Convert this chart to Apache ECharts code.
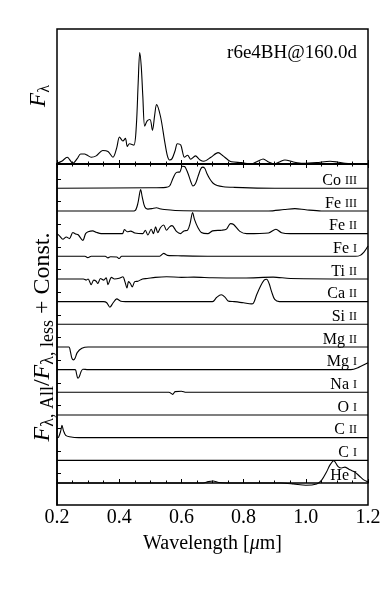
<!DOCTYPE html>
<html>
<head>
<meta charset="utf-8">
<script src="https://cdn.jsdelivr.net/npm/echarts@6/dist/echarts.min.js"></script>
<style>
html, body { margin: 0; background: #fff; }
#chart { width: 387px; height: 595px; }
</style>
</head>
<body>
<div id="chart"></div>
<script>
// wavelength ticks
const xTicks = [0.2, 0.4, 0.6, 0.8, 1.0, 1.2];

// total spectrum F_lambda (arbitrary units), [wavelength um, flux]
const totalFlux = [[0.2,0.005],[0.215,0.02],[0.233,0.05],[0.251,0.005],[0.265,0.04],[0.276,0.074],[0.289,0.074],[0.296,0.067],[0.31,0.05],[0.326,0.06],[0.347,0.1],[0.364,0.093],[0.38,0.05],[0.392,0.12],[0.401,0.2],[0.412,0.17],[0.42,0.19],[0.426,0.13],[0.433,0.15],[0.447,0.14],[0.455,0.28],[0.461,0.6],[0.466,0.826],[0.471,0.72],[0.476,0.5],[0.482,0.28],[0.49,0.32],[0.499,0.33],[0.507,0.25],[0.514,0.36],[0.52,0.44],[0.533,0.35],[0.546,0.17],[0.555,0.06],[0.562,0.03],[0.57,0.04],[0.58,0.1],[0.587,0.15],[0.598,0.14],[0.61,0.05],[0.62,0.065],[0.63,0.035],[0.645,0.06],[0.66,0.03],[0.672,0.02],[0.695,0.05],[0.718,0.084],[0.734,0.06],[0.75,0.03],[0.761,0.017],[0.793,0.01],[0.825,0.0],[0.845,0.02],[0.863,0.037],[0.88,0.015],[0.9,0.0],[0.915,0.015],[0.933,0.03],[0.96,0.015],[0.99,0.005],[1.035,0.01],[1.078,0.02],[1.1,0.015],[1.126,0.005],[1.164,0.0],[1.2,0.0]];

// F_all / F_less - 1 for each species (one unit = one offset step)
const coIII = [[0.2,0],[0.5,0.02],[0.55,0.04],[0.562,0.1],[0.573,0.44],[0.584,0.7],[0.595,0.72],[0.603,0.97],[0.61,0.96],[0.621,0.66],[0.63,0.3],[0.637,0.1],[0.645,0.2],[0.653,0.5],[0.662,0.85],[0.668,0.93],[0.675,0.88],[0.682,0.65],[0.691,0.42],[0.702,0.22],[0.715,0.12],[0.735,0.07],[0.77,0.04],[0.82,0.015],[0.9,0],[1.2,0]];
const feIII = [[0.2,0],[0.44,0],[0.452,0.03],[0.46,0.33],[0.469,0.94],[0.474,0.62],[0.482,0.18],[0.492,0.08],[0.505,0.1],[0.52,0.14],[0.53,0.1],[0.545,0.06],[0.58,0.02],[0.7,0],[0.88,0],[0.93,0.06],[0.965,0.1],[1.0,0.05],[1.05,0],[1.2,0]];
const feII = [[0.2,0],[0.208,-0.1],[0.219,-0.25],[0.23,-0.15],[0.24,-0.22],[0.251,0.05],[0.26,-0.02],[0.268,-0.05],[0.283,-0.3],[0.292,0.0],[0.3,0.08],[0.315,0.12],[0.326,0.06],[0.342,0],[0.41,0],[0.417,0.18],[0.426,0.08],[0.437,0.11],[0.45,0.03],[0.476,0],[0.484,0.15],[0.492,-0.06],[0.503,0.19],[0.51,0.0],[0.517,0.3],[0.524,0.04],[0.533,0.27],[0.543,0.38],[0.552,0.15],[0.562,0.3],[0.57,0.35],[0.584,0.1],[0.597,0.0],[0.608,0.12],[0.62,0.15],[0.628,0.45],[0.636,0.93],[0.642,0.63],[0.653,0.27],[0.664,0.05],[0.685,0],[0.7,0.12],[0.73,0.15],[0.745,0.2],[0.758,0.44],[0.768,0.4],[0.788,0.1],[0.81,0],[0.88,0.03],[0.904,0.19],[0.922,0.04],[0.95,0],[1.2,0]];
const feI = [[0.2,0],[0.29,0],[0.299,-0.06],[0.31,0],[0.355,0],[0.364,-0.07],[0.372,-0.02],[0.392,-0.03],[0.4,-0.1],[0.408,0],[0.53,0],[0.543,0.13],[0.555,0.04],[0.6,0.02],[0.7,0],[1.16,0],[1.175,0.04],[1.187,0.18],[1.2,0.45]];
const tiII = [[0.2,0],[0.285,0],[0.294,-0.05],[0.3,0],[0.31,-0.25],[0.318,-0.05],[0.326,-0.1],[0.331,-0.2],[0.34,0.02],[0.35,-0.05],[0.358,0.05],[0.364,-0.25],[0.375,0.07],[0.385,0.0],[0.4,0.03],[0.412,0.1],[0.418,-0.1],[0.425,-0.4],[0.43,-0.12],[0.436,-0.2],[0.442,-0.35],[0.45,-0.12],[0.46,-0.1],[0.475,0],[0.49,0.02],[0.516,0.07],[0.552,0.1],[0.6,0.07],[0.64,0.08],[0.7,0.05],[0.8,0.04],[0.895,0.08],[0.95,0.02],[1.2,0]];
const caII = [[0.2,0],[0.35,0],[0.36,-0.05],[0.37,-0.25],[0.38,-0.06],[0.392,0.12],[0.405,0.02],[0.42,0],[0.7,0],[0.713,0.18],[0.728,0.3],[0.74,0.2],[0.75,0.03],[0.77,0],[0.8,-0.05],[0.825,-0.1],[0.832,-0.06],[0.842,0.3],[0.855,0.7],[0.866,0.95],[0.874,0.99],[0.882,0.8],[0.89,0.44],[0.9,0.1],[0.915,0],[1.2,0]];
const siII = [[0.2,0],[1.2,0]];
const mgII = [[0.2,0],[0.238,0],[0.243,-0.2],[0.248,-0.5],[0.253,-0.57],[0.258,-0.5],[0.265,-0.25],[0.28,-0.06],[0.3,0],[1.2,0]];
const mgI = [[0.2,0],[0.258,0],[0.263,-0.2],[0.267,-0.38],[0.272,-0.3],[0.277,-0.1],[0.283,0.02],[0.3,0],[1.145,0],[1.17,0.1],[1.2,0.3]];
const naI = [[0.2,0],[0.56,0],[0.572,-0.09],[0.58,0.03],[0.6,0.05],[0.615,0],[1.2,0]];
const oI = [[0.2,0],[1.2,0]];
const cII = [[0.2,0],[0.205,0.02],[0.212,0.3],[0.216,0.54],[0.221,0.3],[0.228,0.1],[0.24,0.04],[0.27,0],[1.2,0]];
const cI = [[0.2,0],[1.2,0]];
const heI = [[0.2,0],[0.67,0],[0.686,0.06],[0.702,0.09],[0.72,0.02],[0.75,0],[0.92,0],[0.96,-0.04],[1.0,-0.1],[1.035,-0.04],[1.051,0.13],[1.067,0.5],[1.078,0.8],[1.09,0.98],[1.104,0.72],[1.115,0.66],[1.126,0.7],[1.142,0.58],[1.158,0.48],[1.172,0.31],[1.185,0.15],[1.2,0.05]];

// top to bottom
const elements = ['Co', 'Fe', 'Fe', 'Fe', 'Ti', 'Ca', 'Si', 'Mg', 'Mg', 'Na', 'O', 'C', 'C', 'He'];
const ions = ['III', 'III', 'II', 'I', 'II', 'II', 'II', 'II', 'I', 'I', 'I', 'II', 'I', 'I'];
const ratios = [coIII, feIII, feII, feI, tiII, caII, siII, mgII, mgI, naI, oI, cII, cI, heI];

const FONT = 'Liberation Serif';
const n = ratios.length;

const chart = echarts.init(document.getElementById('chart'));

const xBase = {
    type: 'value',
    min: 0.2,
    max: 1.2,
    interval: 0.2,
    splitLine: { show: false },
    axisLine: { show: true, lineStyle: { color: '#000', width: 1.5 } },
    axisTick: { show: true, inside: true, length: 4, lineStyle: { color: '#000', width: 1 } },
    minorTick: { show: true, splitNumber: 4, length: 2.5, lineStyle: { color: '#000', width: 1 } },
    axisLabel: { show: false }
};

const series = [{
    type: 'line',
    xAxisIndex: 0,
    yAxisIndex: 0,
    data: totalFlux,
    showSymbol: false,
    smooth: 0.3,
    lineStyle: { color: '#000', width: 1.1 }
}];
ratios.forEach((r, i) => {
    const off = n - 1 - i;
    series.push({
        type: 'line',
        xAxisIndex: 1,
        yAxisIndex: 1,
        data: r.map(p => [p[0], p[1] + off]),
        showSymbol: false,
        smooth: 0.3,
        lineStyle: { color: '#000', width: 1.1 }
    });
});

const tickVals = [];
for (let k = 0; k < n; k++) tickVals.push(k + 0.41);

chart.setOption({
    animation: false,
    backgroundColor: '#fff',
    grid: [
        { left: 57, right: 19, top: 29, height: 135, show: true, borderColor: '#000', borderWidth: 1.5 },
        { left: 57, right: 19, top: 164, height: 341, show: true, borderColor: '#000', borderWidth: 1.5 }
    ],
    xAxis: [
        Object.assign({}, xBase, { gridIndex: 0, position: 'bottom' }),
        Object.assign({}, xBase, {
            gridIndex: 1,
            position: 'bottom',
            axisLabel: {
                show: true, fontFamily: FONT, fontSize: 20, color: '#000', margin: 3,
                formatter: v => xTicks.indexOf(+v.toFixed(1)) >= 0 ? v.toFixed(1) : ''
            },
            name: 'Wavelength [{i|\u03bc}m]',
            nameLocation: 'middle',
            nameGap: 29,
            nameTextStyle: {
                fontFamily: FONT, fontSize: 20, color: '#000',
                rich: { i: { fontFamily: FONT, fontSize: 20, fontStyle: 'italic', color: '#000' } }
            }
        }),
        Object.assign({}, xBase, { gridIndex: 1, position: 'top' })
    ],
    yAxis: [
        { type: 'value', gridIndex: 0, min: 0, max: 1, show: false, splitLine: { show: false } },
        {
            type: 'value', gridIndex: 1, min: -0.97, max: 14.07,
            splitLine: { show: false },
            axisLine: { show: true, lineStyle: { color: '#000', width: 1.5 } },
            axisTick: { show: true, inside: true, length: 4, customValues: tickVals, lineStyle: { color: '#000' } },
            axisLabel: { show: false }
        }
    ],
    series: series
});

// text annotations placed through the chart's own scales
const graphics = [];
ratios.forEach((r, i) => {
    const off = n - 1 - i;
    const p = chart.convertToPixel({ gridIndex: 1 }, [1.2, off]);
    graphics.push({
        type: 'text',
        x: p[0] - 11,
        y: p[1] + 0.5,
        style: {
            text: '{e|' + elements[i] + '} {s|' + ions[i] + '}',
            align: 'right',
            verticalAlign: 'bottom',
            fill: '#000',
            font: '16px ' + FONT,
            rich: {
                e: { fontFamily: FONT, fontSize: 16, fill: '#000' },
                s: { fontFamily: FONT, fontSize: 12, fill: '#000' }
            }
        }
    });
});

graphics.push({
    type: 'text',
    x: 357,
    y: 53,
    style: { text: 'r6e4BH@160.0d', align: 'right', verticalAlign: 'middle', fill: '#000', font: '19px ' + FONT }
});

graphics.push({
    type: 'text',
    x: 39,
    y: 96,
    rotation: Math.PI / 2,
    style: {
        text: '{i|F}{s|\u03bb}',
        align: 'center',
        verticalAlign: 'middle',
        fill: '#000',
        rich: {
            i: { fontFamily: FONT, fontSize: 23, fontStyle: 'italic', lineHeight: 28, fill: '#000' },
            s: { fontFamily: FONT, fontSize: 16, lineHeight: 16, verticalAlign: 'bottom', fill: '#000' }
        }
    }
});

graphics.push({
    type: 'text',
    x: 43,
    y: 337,
    rotation: Math.PI / 2,
    style: {
        text: '{i|F}{s|\u03bb, All}{r|/}{i|F}{s|\u03bb, less}{r| + Const.}',
        align: 'center',
        verticalAlign: 'middle',
        fill: '#000',
        rich: {
            i: { fontFamily: FONT, fontSize: 24, fontStyle: 'italic', lineHeight: 29, fill: '#000' },
            s: { fontFamily: FONT, fontSize: 18, lineHeight: 18, verticalAlign: 'bottom', fill: '#000' },
            r: { fontFamily: FONT, fontSize: 24, lineHeight: 29, fill: '#000' }
        }
    }
});

chart.setOption({ graphic: graphics });
</script>
</body>
</html>
